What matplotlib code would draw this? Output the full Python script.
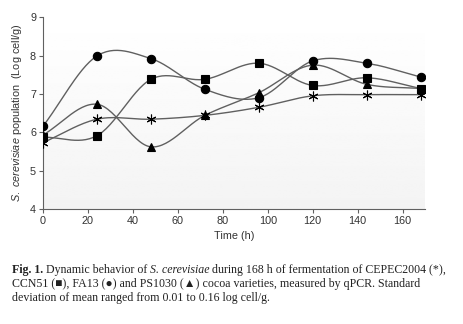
import numpy as np
import matplotlib
matplotlib.use("Agg")
from matplotlib import pyplot as plt

# data (log cell/g)
time_h = [0, 24, 48, 72, 96, 120, 144, 168]
cepec2004 = [5.73, 6.34, 6.34, 6.44, 6.65, 6.95, 6.98, 6.98]
ccn51 = [5.87, 5.91, 7.38, 7.38, 7.80, 7.22, 7.42, 7.14]
fa13 = [6.16, 7.99, 7.92, 7.12, 6.90, 7.86, 7.80, 7.44]
ps1030 = [5.93, 6.73, 5.62, 6.44, 7.03, 7.75, 7.25, 7.14]


def smooth(x, y, n=30):
    # Catmull-Rom curve like the spreadsheet "smoothed line"
    x = np.asarray(x, float)
    y = np.asarray(y, float)
    px = np.concatenate([[2 * x[0] - x[1]], x, [2 * x[-1] - x[-2]]])
    py = np.concatenate([[2 * y[0] - y[1]], y, [2 * y[-1] - y[-2]]])
    xs, ys = [], []
    t = np.linspace(0, 1, n)
    for i in range(1, len(px) - 2):
        for p, out in ((px, xs), (py, ys)):
            p0, p1, p2, p3 = p[i - 1], p[i], p[i + 1], p[i + 2]
            out.extend(0.5 * (2 * p1 + (-p0 + p2) * t
                              + (2 * p0 - 5 * p1 + 4 * p2 - p3) * t ** 2
                              + (-p0 + 3 * p1 - 3 * p2 + p3) * t ** 3))
    return np.array(xs), np.array(ys)


plt.rcParams['font.family'] = ['Liberation Sans', 'DejaVu Sans']
plt.rcParams['mathtext.fontset'] = 'custom'
plt.rcParams['mathtext.it'] = 'Liberation Sans:italic'
plt.rcParams['mathtext.rm'] = 'Liberation Sans'

fig = plt.figure(figsize=(4.63, 3.24), dpi=100)
ax = fig.add_axes([0.093, 0.355, 0.825, 0.592])

# faint background gradient of the plot area
grad = np.linspace(0.955, 1.0, 100).reshape(-1, 1)
ax.imshow(grad, cmap='gray', vmin=0, vmax=1, aspect='auto',
          extent=[0, 170, 9, 4], zorder=0)

series = [
    (cepec2004, (6, 2, 0), 7, 'k'),
    (ccn51, 's', 6, 'k'),
    (fa13, 'o', 6, 'k'),
    (ps1030, '^', 6, 'k'),
]
for vals, mk, ms, col in series:
    sx, sy = smooth(time_h, vals)
    ax.plot(sx, sy, color='#606060', lw=1.0, zorder=2)
    ax.plot(time_h, vals, linestyle='none', marker=mk, ms=ms, color=col,
            mew=0.8, zorder=3)

ax.set_xlim(0, 170)
ax.set_ylim(4, 9)
ax.set_xticks(range(0, 161, 20))
ax.set_yticks(range(4, 10))
for s in ['top', 'right']:
    ax.spines[s].set_visible(False)
for s in ['left', 'bottom']:
    ax.spines[s].set_color('#606060')
    ax.spines[s].set_linewidth(0.8)
ax.tick_params(direction='out', length=3, width=0.8, color='#606060',
               labelsize=7.8, labelcolor='#333333', pad=2)
ax.set_xlabel('Time (h)', fontsize=7.8, color='#333333', labelpad=4)
ax.set_ylabel(r'$\it{S.\ cerevisiae}$ population  (Log cell/g)',
              fontsize=7.8, color='#333333', labelpad=4)

# caption, drawn piece by piece so the italic part can follow on
cap_font = ['Liberation Serif', 'DejaVu Serif']
cap_size = 8.6
renderer = fig.canvas.get_renderer()


def caption_line(y, pieces):
    x = 0.025
    for txt, style, weight in pieces:
        t = fig.text(x, y, txt, fontsize=cap_size, family=cap_font,
                     style=style, weight=weight, color='#222222', va='center')
        bb = t.get_window_extent(renderer)
        x += bb.width / fig.bbox.width


caption_line(0.167, [('Fig. 1.', 'normal', 'bold'),
                     (' Dynamic behavior of ', 'normal', 'normal'),
                     ('S. cerevisiae', 'italic', 'normal'),
                     (' during 168 h of fermentation of CEPEC2004 (*),',
                      'normal', 'normal')])
caption_line(0.123, [('CCN51 (\u25a0), FA13 (\u25cf) and PS1030 (\u25b2) cocoa '
                      'varieties, measured by qPCR. Standard',
                      'normal', 'normal')])
caption_line(0.079, [('deviation of mean ranged from 0.01 to 0.16 log cell/g.',
                      'normal', 'normal')])

fig.savefig('out.png', dpi=100)
